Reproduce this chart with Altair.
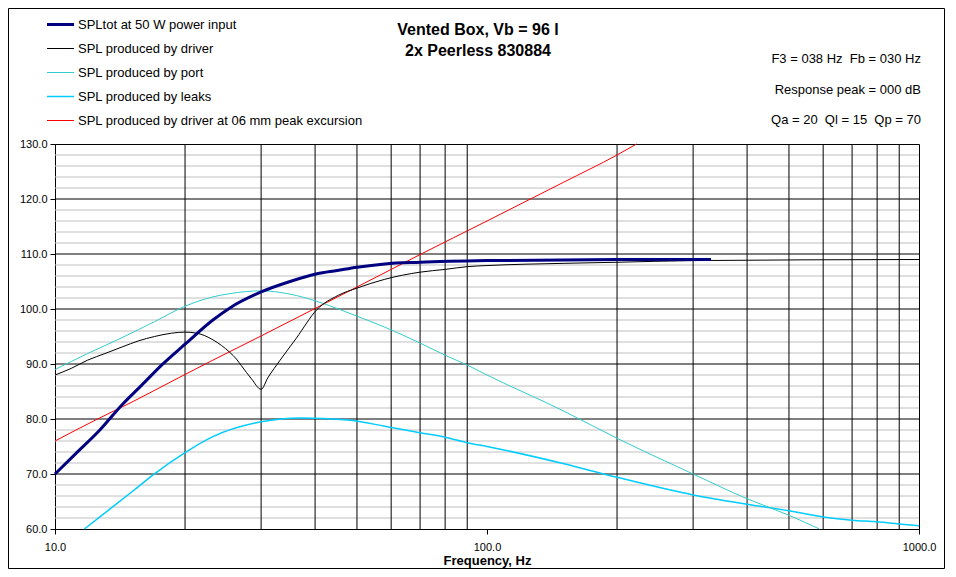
import altair as alt
import pandas as pd

FONT = "Liberation Sans"

series_names = [
    "SPLtot at 50 W power input",
    "SPL produced by driver",
    "SPL produced by port",
    "SPL produced by leaks",
    "SPL produced by driver at 06 mm peak excursion",
]
series_colors = ["#000080", "#000000", "#33CCCC", "#00CCFF", "#FF0000"]
series_widths = [3, 1, 1, 1.5, 1]

tot_f = [10, 11.2, 12.7, 14.3, 15.9, 17.65, 20, 23.2, 25.4, 30, 35, 40.4, 45, 50, 58, 70, 100, 200, 330]
tot_v = [70.0, 73.8, 78.0, 82.6, 86.2, 89.8, 93.6, 98.0, 100.2, 103.1, 105.0, 106.4, 107.0, 107.6, 108.2, 108.5, 108.8, 109.0, 109.0]

drv_f = [10, 10.9, 11.9, 13.05, 14.3, 15.6, 17, 18.6, 20, 21.3, 23.2, 25.4, 26.3, 27, 28.5, 30, 31.1, 33.2, 36.2, 40.4, 45.3, 50, 58, 70, 80, 90, 100, 150, 200, 300, 1000]
drv_v = [88.0, 89.2, 90.7, 91.9, 93.1, 94.2, 95.0, 95.6, 95.8, 95.6, 94.4, 92.1, 90.9, 89.7, 87.3, 85.4, 87.5, 90.7, 94.7, 99.9, 102.5, 103.8, 105.4, 106.7, 107.2, 107.7, 107.9, 108.3, 108.5, 108.8, 109.0]

port_f = [10, 11.9, 14.3, 17, 20, 23.2, 25.4, 30, 35, 40, 45.3, 50, 58, 70, 80, 90, 100, 150, 200, 300, 400, 500, 588]
port_v = [89.0, 91.9, 94.8, 97.7, 100.5, 102.2, 102.8, 103.3, 102.7, 101.5, 100.0, 98.7, 96.7, 93.8, 91.6, 89.8, 88.0, 81.5, 76.5, 70.0, 65.5, 62.5, 60.0]

leak_f = [11.7, 12.7, 15.2, 16.9, 20, 23.2, 30, 37, 47.6, 58, 70, 80, 90, 100, 150, 200, 300, 400, 500, 600, 700, 800, 900, 1000]
leak_v = [60.0, 62.2, 67.0, 69.9, 73.9, 76.8, 79.5, 80.2, 79.8, 78.7, 77.5, 76.7, 75.7, 75.0, 71.9, 69.4, 66.2, 64.5, 63.3, 62.2, 61.6, 61.3, 60.9, 60.6]

exc_f = [10, 12.4, 15, 20, 23.2, 30, 40, 50, 60, 70, 100, 150, 200, 222]
exc_v = [76.0, 79.8, 83.0, 88.1, 90.7, 95.1, 100.1, 104.0, 107.2, 109.9, 116.0, 123.0, 128.0, 130.0]

x_label_values = [10, 100, 1000]
y_label_values = [60, 70, 80, 90, 100, 110, 120, 130]
x_grid = [20, 30, 40, 50, 60, 70, 80, 90, 200, 300, 400, 500, 600, 700, 800, 900]
y_major_grid = [70, 80, 90, 100, 110, 120]
y_minor_grid = [v for v in range(62, 130, 2) if v % 10 != 0]

title_lines = ["Vented Box, Vb = 96 l", "2x Peerless 830884"]
info_lines = [
    "F3 = 038 Hz\u00a0\u00a0Fb = 030 Hz",
    "Response peak = 000 dB",
    "Qa = 20\u00a0\u00a0Ql = 15\u00a0\u00a0Qp = 70",
]

# long table, drawn back to front
rows = []
for name, fs, vs in [
    (series_names[4], exc_f, exc_v),
    (series_names[3], leak_f, leak_v),
    (series_names[2], port_f, port_v),
    (series_names[1], drv_f, drv_v),
    (series_names[0], tot_f, tot_v),
]:
    for f, v in zip(fs, vs):
        rows.append({"series": name, "f": f, "spl": v})
df = pd.DataFrame(rows)

xscale = alt.Scale(type="log", domain=[10, 1000], nice=False)
yscale = alt.Scale(domain=[60, 130], nice=False)

x_axis = alt.Axis(
    values=x_label_values, format=".1f", title="Frequency, Hz",
    grid=False, tickSize=5, labelPadding=7, titlePadding=2, labelFlush=False,
)
y_axis = alt.Axis(values=y_label_values, format=".1f", title=None,
                  grid=False, tickSize=5, labelPadding=3)

legend_kw = dict(
    title=None, orient="none", legendX=-1, legendY=-126,
    symbolType="M-2.7,0H2.7", symbolSize=100, labelFontSize=13,
    labelFont=FONT, labelColor="black", rowPadding=10, padding=0,
    labelOffset=11, labelLimit=0,
)

minor = alt.Chart(pd.DataFrame({"v": y_minor_grid})).mark_rule(
    color="#C0C0C0", strokeWidth=1
).encode(y=alt.Y("v:Q", scale=yscale, axis=y_axis))

major = alt.Chart(pd.DataFrame({"v": y_major_grid})).mark_rule(
    color="black", strokeWidth=1
).encode(y=alt.Y("v:Q", scale=yscale, axis=y_axis))

vgrid = alt.Chart(pd.DataFrame({"f": x_grid})).mark_rule(
    color="black", strokeWidth=1
).encode(x=alt.X("f:Q", scale=xscale, axis=x_axis))

lines = alt.Chart(df).mark_line(interpolate="monotone").encode(
    x=alt.X("f:Q", scale=xscale, axis=x_axis),
    y=alt.Y("spl:Q", scale=yscale, axis=y_axis),
    color=alt.Color("series:N", scale=alt.Scale(domain=series_names, range=series_colors),
                    legend=alt.Legend(**legend_kw)),
    strokeWidth=alt.StrokeWidth("series:N",
                                scale=alt.Scale(type="ordinal", domain=series_names, range=series_widths),
                                legend=alt.Legend(**legend_kw)),
    detail="series:N",
)

one = pd.DataFrame({"a": [0]})

def text_layer(txt, x, y, align, size, weight="normal"):
    return alt.Chart(one).mark_text(
        text=txt, font=FONT, fontSize=size, fontWeight=weight, align=align,
        baseline="alphabetic", color="black",
    ).encode(x=alt.value(x), y=alt.value(y))

texts = [
    text_layer(title_lines[0], 423, -109, "center", 16, "bold"),
    text_layer(title_lines[1], 423, -88, "center", 16, "bold"),
    text_layer(info_lines[0], 866, -81, "right", 13),
    text_layer(info_lines[1], 866, -50, "right", 13),
    text_layer(info_lines[2], 866, -20, "right", 13),
]

frame = alt.Chart(one).mark_rect(filled=False, stroke="black", strokeWidth=1).encode(
    x=alt.value(-46.5), x2=alt.value(889.5), y=alt.value(-135.5), y2=alt.value(424.5)
)

chart = alt.layer(minor, major, vgrid, lines, *texts, frame).properties(
    width=864, height=385,
    autosize=alt.AutoSizeParams(type="none"),
    padding={"left": 47, "top": 136, "right": 27, "bottom": 40},
    background="white",
).configure_view(stroke="black", strokeWidth=1).configure_axis(
    labelFont=FONT, labelFontSize=11, labelColor="black",
    titleFont=FONT, titleFontSize=13, titleFontWeight="bold", titleColor="black",
    domainColor="black", tickColor="black", domainWidth=1, tickWidth=1,
)

chart.save("out.html", embed_options={"renderer": "svg", "actions": False})
